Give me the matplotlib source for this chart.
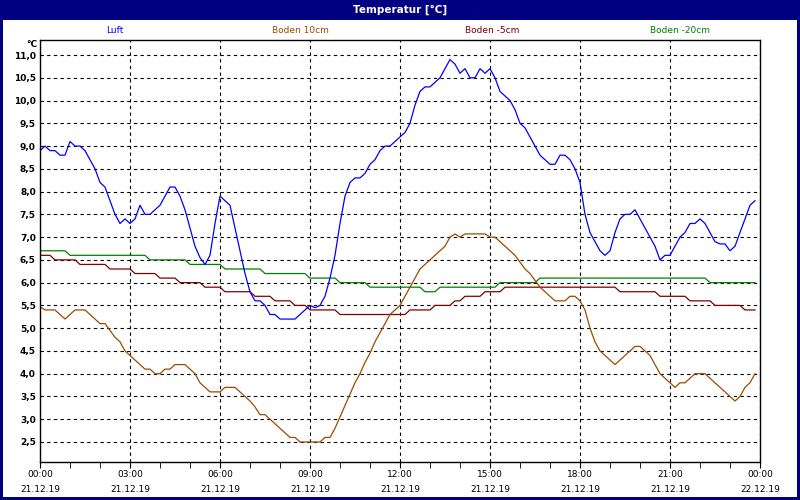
import matplotlib
matplotlib.use("Agg")
import matplotlib.pyplot as plt
from matplotlib.patches import Rectangle
import numpy as np

# 10-minute readings, 21.12.19 00:00 - 23:50
luft = [8.9, 9.0, 8.9, 8.9, 8.8, 8.8, 9.1, 9.0, 9.0, 8.9, 8.7, 8.5,
        8.2, 8.1, 7.8, 7.5, 7.3, 7.4, 7.3, 7.4, 7.7, 7.5, 7.5, 7.6,
        7.7, 7.9, 8.1, 8.1, 7.9, 7.6, 7.2, 6.8, 6.55, 6.4, 6.6, 7.3,
        7.9, 7.8, 7.7, 7.2, 6.7, 6.2, 5.8, 5.6, 5.6, 5.5, 5.3, 5.3,
        5.2, 5.2, 5.2, 5.2, 5.3, 5.4, 5.5, 5.45, 5.5, 5.7, 6.1, 6.6,
        7.3, 7.9, 8.2, 8.3, 8.3, 8.4, 8.6, 8.7, 8.9, 9.0, 9.0, 9.1,
        9.2, 9.3, 9.5, 9.9, 10.2, 10.3, 10.3, 10.4, 10.5, 10.7, 10.9, 10.8,
        10.6, 10.7, 10.5, 10.5, 10.7, 10.6, 10.7, 10.5, 10.2, 10.1, 10.0, 9.8,
        9.5, 9.4, 9.2, 9.0, 8.8, 8.7, 8.6, 8.6, 8.8, 8.8, 8.7, 8.5,
        8.2, 7.5, 7.1, 6.9, 6.7, 6.6, 6.7, 7.1, 7.4, 7.5, 7.5, 7.6,
        7.4, 7.2, 7.0, 6.8, 6.5, 6.6, 6.6, 6.8, 7.0, 7.1, 7.3, 7.3,
        7.4, 7.3, 7.1, 6.9, 6.85, 6.85, 6.7, 6.8, 7.1, 7.4, 7.7, 7.8]

boden_10 = [5.47, 5.4, 5.4, 5.4, 5.3, 5.2, 5.3, 5.4, 5.4, 5.4, 5.3, 5.2,
            5.1, 5.1, 4.95, 4.8, 4.7, 4.5, 4.4, 4.3, 4.2, 4.1, 4.1, 4.0,
            4.0, 4.1, 4.1, 4.2, 4.2, 4.2, 4.1, 4.0, 3.8, 3.7, 3.6, 3.6,
            3.6, 3.7, 3.7, 3.7, 3.6, 3.5, 3.4, 3.27, 3.1, 3.1, 3.0, 2.9,
            2.8, 2.7, 2.6, 2.6, 2.5, 2.5, 2.5, 2.5, 2.5, 2.6, 2.6, 2.8,
            3.05, 3.3, 3.55, 3.8, 4.0, 4.25, 4.45, 4.7, 4.9, 5.1, 5.3, 5.4,
            5.5, 5.7, 5.9, 6.1, 6.3, 6.4, 6.5, 6.6, 6.7, 6.8, 7.0, 7.07,
            7.0, 7.07, 7.07, 7.07, 7.07, 7.07, 7.0, 7.0, 6.9, 6.8, 6.7, 6.6,
            6.45, 6.3, 6.2, 6.05, 5.9, 5.8, 5.7, 5.6, 5.6, 5.6, 5.7, 5.7,
            5.6, 5.4, 5.0, 4.7, 4.5, 4.4, 4.3, 4.2, 4.3, 4.4, 4.5, 4.6,
            4.6, 4.5, 4.4, 4.2, 4.0, 3.9, 3.8, 3.7, 3.8, 3.8, 3.9, 4.0,
            4.0, 4.0, 3.9, 3.8, 3.7, 3.6, 3.5, 3.4, 3.5, 3.7, 3.8, 4.0]

boden_m5 = [6.6, 6.6, 6.6, 6.5, 6.5, 6.5, 6.5, 6.5, 6.4, 6.4, 6.4, 6.4,
            6.4, 6.4, 6.3, 6.3, 6.3, 6.3, 6.3, 6.2, 6.2, 6.2, 6.2, 6.2,
            6.1, 6.1, 6.1, 6.1, 6.0, 6.0, 6.0, 6.0, 6.0, 5.9, 5.9, 5.9,
            5.9, 5.8, 5.8, 5.8, 5.8, 5.8, 5.8, 5.7, 5.7, 5.7, 5.7, 5.6,
            5.6, 5.6, 5.6, 5.5, 5.5, 5.5, 5.4, 5.4, 5.4, 5.4, 5.4, 5.4,
            5.3, 5.3, 5.3, 5.3, 5.3, 5.3, 5.3, 5.3, 5.3, 5.3, 5.3, 5.3,
            5.3, 5.3, 5.4, 5.4, 5.4, 5.4, 5.4, 5.5, 5.5, 5.5, 5.5, 5.6,
            5.6, 5.7, 5.7, 5.7, 5.7, 5.8, 5.8, 5.8, 5.8, 5.9, 5.9, 5.9,
            5.9, 5.9, 5.9, 5.9, 5.9, 5.9, 5.9, 5.9, 5.9, 5.9, 5.9, 5.9,
            5.9, 5.9, 5.9, 5.9, 5.9, 5.9, 5.9, 5.9, 5.8, 5.8, 5.8, 5.8,
            5.8, 5.8, 5.8, 5.8, 5.7, 5.7, 5.7, 5.7, 5.7, 5.7, 5.6, 5.6,
            5.6, 5.6, 5.6, 5.5, 5.5, 5.5, 5.5, 5.5, 5.5, 5.4, 5.4, 5.4]

boden_m20 = [6.7, 6.7, 6.7, 6.7, 6.7, 6.7, 6.6, 6.6, 6.6, 6.6, 6.6, 6.6,
             6.6, 6.6, 6.6, 6.6, 6.6, 6.6, 6.6, 6.6, 6.6, 6.6, 6.5, 6.5,
             6.5, 6.5, 6.5, 6.5, 6.5, 6.5, 6.4, 6.4, 6.4, 6.4, 6.4, 6.4,
             6.4, 6.3, 6.3, 6.3, 6.3, 6.3, 6.3, 6.3, 6.3, 6.2, 6.2, 6.2,
             6.2, 6.2, 6.2, 6.2, 6.2, 6.2, 6.1, 6.1, 6.1, 6.1, 6.1, 6.1,
             6.0, 6.0, 6.0, 6.0, 6.0, 6.0, 5.9, 5.9, 5.9, 5.9, 5.9, 5.9,
             5.9, 5.9, 5.9, 5.9, 5.9, 5.8, 5.8, 5.8, 5.9, 5.9, 5.9, 5.9,
             5.9, 5.9, 5.9, 5.9, 5.9, 5.9, 5.9, 5.9, 6.0, 6.0, 6.0, 6.0,
             6.0, 6.0, 6.0, 6.0, 6.1, 6.1, 6.1, 6.1, 6.1, 6.1, 6.1, 6.1,
             6.1, 6.1, 6.1, 6.1, 6.1, 6.1, 6.1, 6.1, 6.1, 6.1, 6.1, 6.1,
             6.1, 6.1, 6.1, 6.1, 6.1, 6.1, 6.1, 6.1, 6.1, 6.1, 6.1, 6.1,
             6.1, 6.1, 6.0, 6.0, 6.0, 6.0, 6.0, 6.0, 6.0, 6.0, 6.0, 6.0]

series_names = ["Luft", "Boden 10cm", "Boden -5cm", "Boden -20cm"]
series_colors = ["#0000ff", "#994c00", "#800000", "#008000"]

y_ticks = [2.5, 3.0, 3.5, 4.0, 4.5, 5.0, 5.5, 6.0, 6.5, 7.0, 7.5, 8.0,
           8.5, 9.0, 9.5, 10.0, 10.5, 11.0]
x_ticks = [0, 3, 6, 9, 12, 15, 18, 21, 24]
x_labels = ["00:00\n21.12.19", "03:00\n21.12.19", "06:00\n21.12.19",
            "09:00\n21.12.19", "12:00\n21.12.19", "15:00\n21.12.19",
            "18:00\n21.12.19", "21:00\n21.12.19", "00:00\n22.12.19"]

hours = np.arange(len(luft)) / 6.0
navy = "#000080"

fig = plt.figure(figsize=(8, 5), dpi=100)
fig.patch.set_facecolor("white")
fig.patch.set_edgecolor(navy)
fig.patch.set_linewidth(3)

# title bar
fig.patches.append(Rectangle((0, 0.96), 1, 0.04, transform=fig.transFigure,
                             facecolor=navy, edgecolor="none", zorder=0))
fig.text(0.5, 0.98, "Temperatur [°C]", color="white", fontsize=7.5,
         fontweight="bold", ha="center", va="center")

# legend row
for name, col, xpos in zip(series_names, series_colors, [0.143, 0.375, 0.615, 0.85]):
    fig.text(xpos, 0.939, name, color=col, fontsize=6.5, ha="center", va="center")

ax = fig.add_axes([0.05, 0.076, 0.90, 0.844])
ax.plot(hours, boden_m20, color=series_colors[3], lw=0.9)
ax.plot(hours, boden_m5, color=series_colors[2], lw=0.9)
ax.plot(hours, boden_10, color=series_colors[1], lw=0.9)
ax.plot(hours, luft, color=series_colors[0], lw=0.9)

ax.set_xlim(0, 24)
ax.set_ylim(2.06, 11.33)

ax.set_yticks(y_ticks)
ax.set_yticklabels([("%.1f" % v).replace(".", ",") for v in y_ticks])
ax.set_xticks(x_ticks)
ax.set_xticklabels(x_labels, linespacing=1.85)
ax.set_xticks(range(25), minor=True)

ax.tick_params(axis="y", length=0, pad=3, labelsize=6.5)
ax.tick_params(axis="x", which="both", length=4, direction="out",
               labelsize=6.5, pad=2)
for lab in ax.get_yticklabels():
    lab.set_fontweight("bold")

ax.grid(True, color="black", linestyle=(0, (3, 3)), linewidth=0.8)
for s in ax.spines.values():
    s.set_linewidth(1.0)

ax.text(-0.1, 11.33, "°C", fontsize=6.5, fontweight="bold", ha="right", va="top")

fig.savefig("out.png", dpi=100)
